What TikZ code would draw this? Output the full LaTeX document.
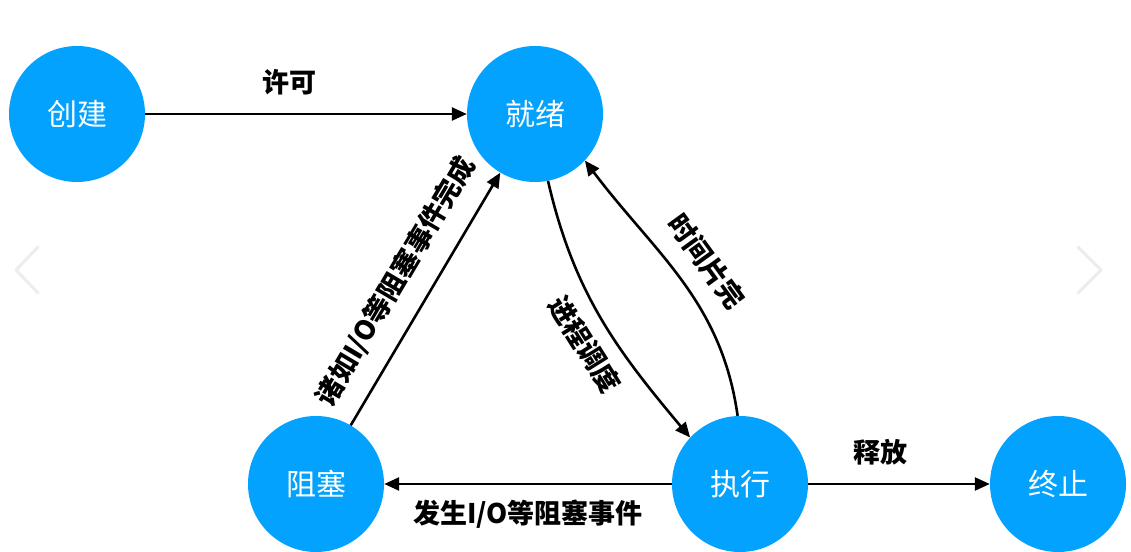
\documentclass[tikz,border=0pt]{standalone}
\usepackage{fontspec}
\newfontfamily\cjk{Noto Sans CJK SC}
\usetikzlibrary{arrows.meta}
\definecolor{stateblue}{HTML}{03A2FE}
\begin{document}
\begin{tikzpicture}[x=1pt,y=-1pt,
  state/.style={circle,fill=stateblue,draw=none,minimum size=136pt,inner sep=0pt,
    text=white,font=\cjk\fontsize{30pt}{30pt}\selectfont},
  conn/.style={line width=2.6pt,draw=black,-{Triangle[length=15pt,width=13pt]}},
  lbl/.style={font=\cjk\bfseries\fontsize{27pt}{27pt}\selectfont,text=black,inner sep=2pt},
  chev/.style={line width=3pt,draw=gray!14,line cap=round,line join=round}]
\useasboundingbox (0,0) rectangle (1131,551);
\fill[white] (0,0) rectangle (1131,551);
% faint carousel chevrons
\draw[chev] (38,247) -- (16,270) -- (38,293);
\draw[chev] (1078,247) -- (1101,270) -- (1078,293);
% states
\node[state] (cj) at (77,114) {创建};
\node[state] (jx) at (535,114) {就绪};
\node[state] (zs) at (316,484) {阻塞};
\node[state] (zx) at (740,484) {执行};
\node[state] (zz) at (1058,484) {终止};
% connectors
\draw[conn] (cj) -- node[lbl,pos=0.45,above=16pt] {许可} (jx);
\draw[conn] (zs) -- node[lbl,pos=0.5,sloped,above=17pt] {诸如I/O等阻塞事件完成} (jx);
\draw[conn] (jx.-79) to[out=-77,in=130] node[lbl,pos=0.55,sloped,below=11pt] {进程调度} (zx.137);
\draw[conn] (zx.92) to[out=98,in=-53] node[lbl,pos=0.5,sloped,above=15pt] {时间片完} (jx.-43);
\draw[conn] (zx) -- node[lbl,midway,below=13pt] {发生I/O等阻塞事件} (zs);
\draw[conn] (zx) -- node[lbl,pos=0.4,above=16pt] {释放} (zz);
\end{tikzpicture}
\end{document}
